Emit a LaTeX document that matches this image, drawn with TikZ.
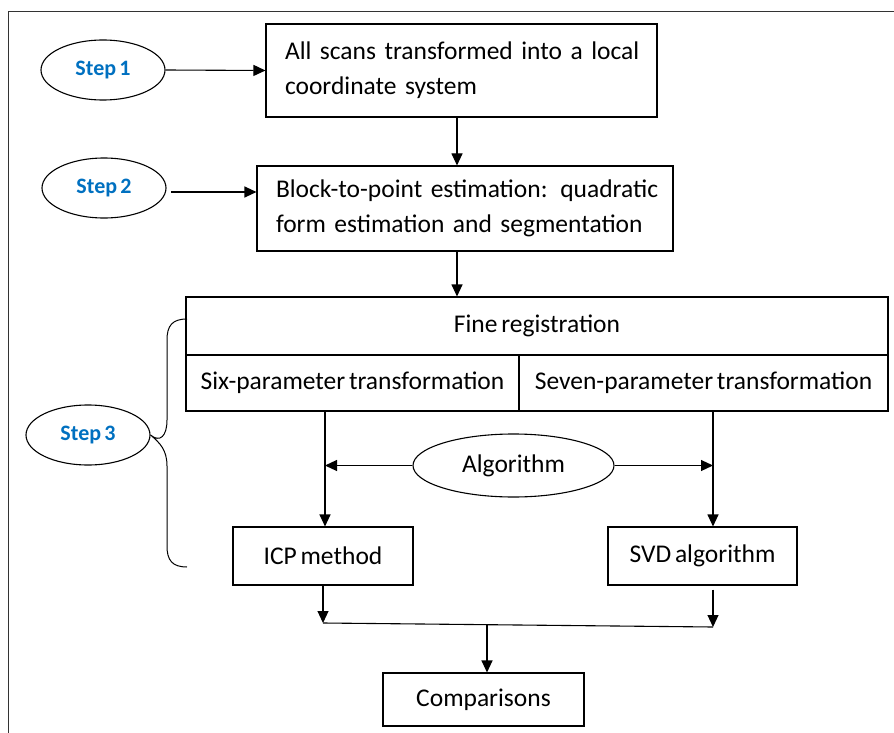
\documentclass[tikz,border=0pt]{standalone}
\usepackage{fontspec}
\setmainfont[WordSpace={0.65,0,0}]{Carlito}
\usetikzlibrary{arrows.meta,shapes.geometric,calc}
\definecolor{stepblue}{RGB}{0,112,192}
\begin{document}
\begin{tikzpicture}[x=1pt,y=-1pt,
  line width=1.1pt,
  arr/.style={-{Triangle[length=12pt,width=11pt]}},
  boxx/.style={draw,rectangle,inner sep=0pt,font=\fontsize{25.5}{35}\selectfont},
  stepell/.style={draw,ellipse,inner sep=0pt,minimum width=124pt,minimum height=60pt,font=\fontsize{22}{24}\selectfont\bfseries,text=stepblue},
  algell/.style={draw,ellipse,inner sep=0pt,minimum width=201pt,minimum height=63pt,font=\fontsize{25.5}{28}\selectfont}]
\useasboundingbox (0,0) rectangle (894,733);
\draw[line width=0.9pt,black!80] (8,733) -- (8,11) -- (894,11);

% step 1
\node[stepell] (s1) at (103,70) {Step 1};
\node[boxx,minimum width=391pt,minimum height=93pt,text width=353pt,align=left] (b1) at (461.5,70.5)
  {\mbox{All scans transformed into a local}\\\mbox{coordinate system}};
\draw[arr] (s1.east) -- (b1.west);

% step 2
\node[stepell] (s2) at (104,188) {Step 2};
\node[boxx,minimum width=416pt,minimum height=85pt,text width=378pt,align=left] (b2) at (465,208.5)
  {\mbox{Block-to-point estimation: quadratic}\\\mbox{form estimation and segmentation}};
\coordinate (s2a) at (171,192);
\draw[arr] (s2a) -- (s2a -| b2.west);
\draw[arr] (b1.south -| 457,0) -- (b2.north -| 457,0);

% fine registration table
\node[boxx,minimum width=702pt,minimum height=58pt] (fr) at (537,326) {Fine registration};
\node[boxx,minimum width=333pt,minimum height=56pt] (six) at (352.5,383) {Six-parameter transformation};
\node[boxx,minimum width=369pt,minimum height=56pt] (sev) at (703.5,383) {Seven-parameter transformation};
\draw[arr] (b2.south -| 457,0) -- (fr.north -| 457,0);

% algorithm
\node[algell] (alg) at (513.5,465.5) {Algorithm};
\node[boxx,minimum width=180pt,minimum height=58pt] (icp) at (323,556) {ICP method};
\node[boxx,minimum width=189pt,minimum height=58pt] (svd) at (702.5,556) {SVD algorithm};
\coordinate (lx) at (325,411);
\coordinate (rx) at (713,411);
\draw[arr] (lx) -- (lx |- icp.north);
\draw[arr] (rx) -- (rx |- svd.north);
\draw[arr] (alg.west) -- (alg.west -| lx);
\draw[arr] (alg.east) -- (alg.east -| rx);

% step 3 with brace
\node[stepell] (s3) at (88,435) {Step 3};
\coordinate (bt) at (187,319);
\coordinate (bb) at (187,567);
\draw[line width=1pt] (bt) .. controls (172,319) and (167,326) .. (167,340) -- (167,420)
   .. controls (167,436) and (160,443) .. (s3.east)
   .. controls (160,443) and (167,450) .. (167,466) -- (167,546)
   .. controls (167,560) and (172,567) .. (bb);

% comparisons
\node[boxx,minimum width=201pt,minimum height=53pt] (cmp) at (483.5,699.5) {Comparisons};
\coordinate (m1) at (323,623);
\coordinate (m2) at (713,627);
\coordinate (mm) at (487,625);
\draw[arr] (icp.south) -- (m1);
\draw[arr] ($(svd.south -| m2)+(0,4)$) -- (m2);
\draw (m1) -- (m2);
\draw[arr] (mm) -- (mm |- cmp.north);
\end{tikzpicture}
\end{document}
